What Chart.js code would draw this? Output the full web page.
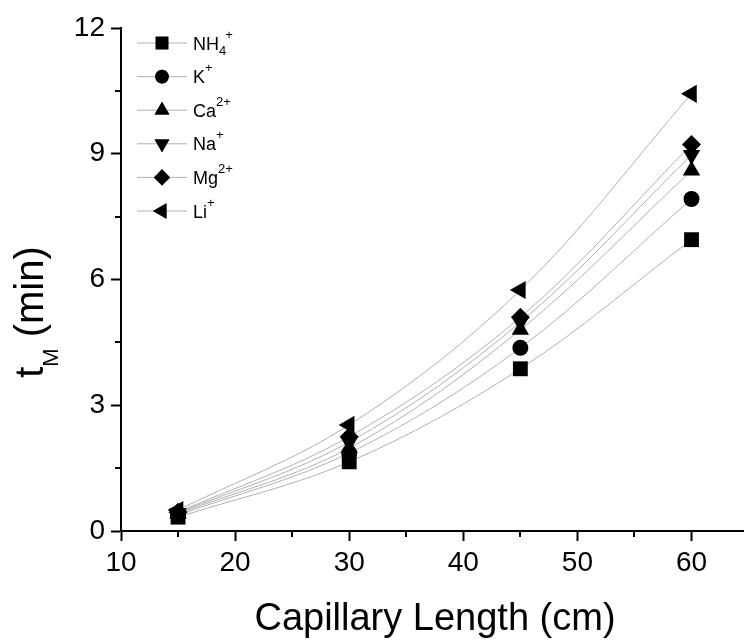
<!DOCTYPE html>
<html lang="en">
<head>
<meta charset="UTF-8">
<title>Migration time vs capillary length</title>
<script src="https://cdn.jsdelivr.net/npm/chart.js"></script>
<style>
  body { margin: 0; background: #fff; }
  #wrap { width: 744px; height: 640px; }
</style>
</head>
<body>
<div id="wrap"><canvas id="chart" width="744" height="640"></canvas></div>
<script>
// capillary lengths (cm) and migration times (min) per cation
const lengths = [15, 30, 45, 60];
const nh4 = [0.33, 1.65, 3.87, 6.95];
const k   = [0.38, 1.86, 4.37, 7.92];
const ca  = [0.41, 1.98, 4.80, 8.60];
const na  = [0.43, 2.12, 4.98, 8.97];
const mg  = [0.45, 2.25, 5.10, 9.22];
const li  = [0.50, 2.53, 5.75, 10.43];

const ionBase = ['NH', 'K', 'Ca', 'Na', 'Mg', 'Li'];
const ionSub  = ['4', '', '', '', '', ''];
const ionSup  = ['+', '+', '2+', '+', '2+', '+'];
const series  = [nh4, k, ca, na, mg, li];

const xTicks = [10, 20, 30, 40, 50, 60];
const yTicks = [0, 3, 6, 9, 12];

const markers = [
  { style: 'rect',     rot: 0,   r: 10.5 },
  { style: 'circle',   rot: 0,   r: 8 },
  { style: 'triangle', rot: 0,   r: 10 },
  { style: 'triangle', rot: 180, r: 10 },
  { style: 'rectRot',  rot: 0,   r: 9.5 },
  { style: 'triangle', rot: 270, r: 10.5 }
];

const FONT = '"Liberation Sans", Arial, sans-serif';
const CURVE = '#b0b0b0';

const datasets = [];
series.forEach((vals, i) => {
  const pts = lengths.map((x, j) => ({ x: x, y: vals[j] }));
  // smooth trend curve under the markers
  datasets.push({
    data: pts,
    showLine: true,
    borderColor: CURVE,
    borderWidth: 1,
    pointRadius: 0,
    tension: 0.35,
    order: 1
  });
  datasets.push({
    data: pts,
    showLine: false,
    pointStyle: markers[i].style,
    pointRotation: markers[i].rot,
    pointRadius: markers[i].r,
    pointBackgroundColor: '#000',
    pointBorderColor: '#000',
    pointBorderWidth: 0,
    order: 0
  });
});

// minor ticks, axis titles and the ion legend
const decorations = {
  id: 'decorations',
  afterDraw(chart) {
    const ctx = chart.ctx;
    const xs = chart.scales.x, ys = chart.scales.y;
    const area = chart.chartArea;
    ctx.save();
    ctx.strokeStyle = '#000';
    ctx.lineWidth = 2;
    ctx.beginPath();
    for (let v = 15; v <= 55; v += 10) {
      const px = Math.round(xs.getPixelForValue(v));
      ctx.moveTo(px, area.bottom);
      ctx.lineTo(px, area.bottom + 6);
    }
    for (let v = 1.5; v < 12; v += 3) {
      const py = Math.round(ys.getPixelForValue(v));
      ctx.moveTo(area.left, py);
      ctx.lineTo(area.left - 6, py);
    }
    ctx.stroke();

    ctx.fillStyle = '#000';
    // x title
    ctx.font = '38px ' + FONT;
    ctx.textAlign = 'center';
    ctx.textBaseline = 'alphabetic';
    ctx.fillText('Capillary Length (cm)', 435, 630);

    // y title with subscript, rotated
    ctx.save();
    ctx.translate(43, 312);
    ctx.rotate(-Math.PI / 2);
    ctx.textAlign = 'left';
    ctx.font = '40px ' + FONT;
    const wT = ctx.measureText('t').width;
    ctx.font = '22px ' + FONT;
    const wM = ctx.measureText('M').width;
    ctx.font = '40px ' + FONT;
    const wRest = ctx.measureText(' (min)').width;
    let x0 = -(wT + wM + wRest) / 2;
    ctx.fillText('t', x0, 0);
    ctx.font = '22px ' + FONT;
    ctx.fillText('M', x0 + wT, 15);
    ctx.font = '40px ' + FONT;
    ctx.fillText(' (min)', x0 + wT + wM, 0);
    ctx.restore();

    // legend
    ctx.textAlign = 'left';
    ctx.textBaseline = 'alphabetic';
    for (let i = 0; i < ionBase.length; i++) {
      const cy = 43 + i * 33.6;
      ctx.strokeStyle = CURVE;
      ctx.lineWidth = 1;
      ctx.beginPath();
      ctx.moveTo(137, cy);
      ctx.lineTo(187, cy);
      ctx.stroke();
      Chart.helpers.drawPoint(ctx, {
        pointStyle: markers[i].style,
        rotation: markers[i].rot,
        radius: markers[i].r * 0.85,
        borderWidth: 0
      }, 162, cy);
      ctx.fillStyle = '#000';
      ctx.fill();
      let tx = 193;
      const base = cy + 6.5;
      ctx.font = '18px ' + FONT;
      ctx.fillText(ionBase[i], tx, base);
      tx += ctx.measureText(ionBase[i]).width;
      ctx.font = '13px ' + FONT;
      let subW = 0;
      if (ionSub[i]) {
        ctx.fillText(ionSub[i], tx, base + 5);
        subW = ctx.measureText(ionSub[i]).width;
      }
      ctx.fillText(ionSup[i], tx + (subW ? subW - 1 : 0), base - 11);
    }
    ctx.restore();
  }
};

new Chart(document.getElementById('chart'), {
  type: 'scatter',
  data: { datasets: datasets },
  plugins: [decorations],
  options: {
    responsive: false,
    animation: false,
    layout: { autoPadding: false, padding: { top: 28, left: 0, right: 0, bottom: 0 } },
    plugins: { legend: { display: false }, tooltip: { enabled: false } },
    scales: {
      x: {
        type: 'linear',
        min: 10,
        max: 64.6,
        afterFit(scale) {
          scale.height = 109;
          scale.paddingLeft = 0;
          scale.paddingRight = 0;
        },
        afterBuildTicks(scale) { scale.ticks = xTicks.map(v => ({ value: v })); },
        border: { display: true, color: '#000', width: 2 },
        grid: { drawOnChartArea: false, drawTicks: true, tickLength: 10, tickColor: '#000', tickWidth: 2 },
        ticks: { color: '#000', padding: 5, font: { family: FONT, size: 28 } }
      },
      y: {
        type: 'linear',
        min: 0,
        max: 12,
        afterFit(scale) { scale.width = 121; },
        afterBuildTicks(scale) { scale.ticks = yTicks.map(v => ({ value: v })); },
        border: { display: true, color: '#000', width: 2 },
        grid: { drawOnChartArea: false, drawTicks: true, tickLength: 10, tickColor: '#000', tickWidth: 2 },
        ticks: { color: '#000', padding: 6, font: { family: FONT, size: 28 } }
      }
    }
  }
});
</script>
</body>
</html>
